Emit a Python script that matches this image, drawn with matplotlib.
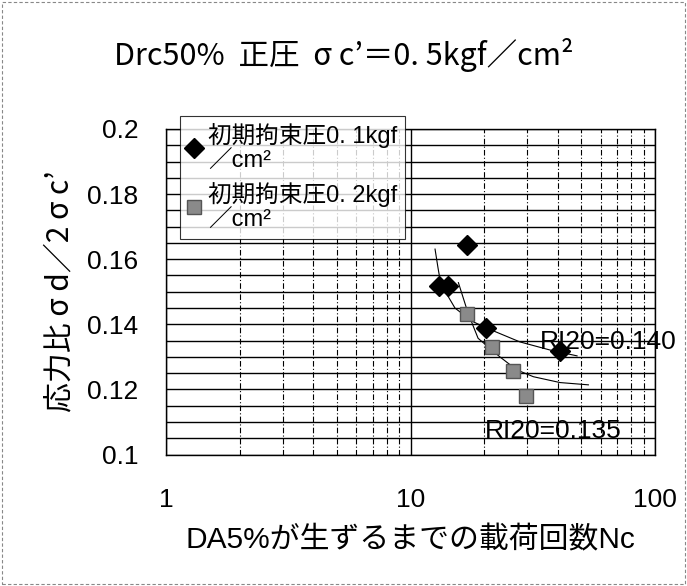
import matplotlib
matplotlib.use('Agg')
import matplotlib.pyplot as plt
from matplotlib.patches import Rectangle
from matplotlib.ticker import FixedLocator, NullFormatter, FixedFormatter

plt.rcParams['font.family'] = ['Liberation Sans', 'Noto Sans CJK JP', 'DejaVu Sans']
cjk = ['Noto Sans CJK JP', 'Liberation Sans', 'DejaVu Sans']

# data
nc_01 = [13.1, 14.2, 17.0, 20.3, 40.9]
sr_01 = [0.1518, 0.1518, 0.1644, 0.1388, 0.1319]
nc_02 = [17.0, 21.5, 26.3, 29.6]
sr_02 = [0.1432, 0.1329, 0.1257, 0.1180]

# trend curves, points
fit1_x = [12.6, 12.96, 13.3, 15.2, 17.8, 20.4, 28.0, 37.2, 48.0]
fit1_y = [0.1631, 0.1573, 0.1524, 0.1450, 0.1410, 0.1389, 0.1346, 0.1321, 0.1303]
fit2_x = [15.7, 17.2, 18.9, 23.2, 27.2, 31.8, 40.9, 53.4]
fit2_y = [0.1528, 0.1434, 0.1357, 0.1300, 0.1260, 0.1239, 0.1221, 0.1214]

labels = ['初期拘束圧0. 1kgf\n／cm²', '初期拘束圧0. 2kgf\n／cm²']
yticks = [0.1, 0.12, 0.14, 0.16, 0.18, 0.2]
ytick_labels = ['0.1', '0.12', '0.14', '0.16', '0.18', '0.2']

fig = plt.figure(figsize=(6.87, 5.86), dpi=100)
ax = fig.add_axes([166/687, 1-454.5/586, (655-166)/687, (454.5-129)/586])

ax.set_xscale('log')
ax.set_xlim(1, 100)
ax.set_ylim(0.1, 0.2)

ax.plot(fit1_x, fit1_y, color='black', lw=0.8)
ax.plot(fit2_x, fit2_y, color='black', lw=0.8)
ax.plot(nc_01, sr_01, 'D', color='black', ms=10, ls='none', label=labels[0], zorder=5)
ax.plot(nc_02, sr_02, 's', color='#8a8a8a', mec='#555555', ms=10, ls='none', label=labels[1], zorder=5)

ax.text(33.8, 0.1346, 'RI20=0.140', fontsize=19, va='center', ha='left', clip_on=False, zorder=6)
ax.text(20.2, 0.1072, 'RI20=0.135', fontsize=19, va='center', ha='left', zorder=6)

# grid
ax.yaxis.set_major_locator(FixedLocator(yticks))
ax.yaxis.set_major_formatter(FixedFormatter(ytick_labels))
ax.yaxis.set_minor_locator(FixedLocator([0.1 + 0.005*i for i in range(21)]))
ax.grid(True, which='minor', axis='y', color='black', lw=1.0)
ax.grid(True, which='major', axis='y', color='black', lw=1.0)
ax.grid(True, which='major', axis='x', color='black', lw=1.0)
ax.grid(True, which='minor', axis='x', color='black', lw=0.8, ls=(0, (5, 2, 1, 2)))
ax.xaxis.set_minor_formatter(NullFormatter())
ax.set_xticks([1, 10, 100])
ax.set_xticklabels(['1', '10', '100'])
ax.tick_params(axis='both', which='both', length=0, labelsize=19)
ax.tick_params(axis='x', pad=24)
ax.tick_params(axis='y', pad=20)
for s in ax.spines.values():
    s.set_color('black')
    s.set_linewidth(1.0)

ax.set_xlabel('DA5%が生ずるまでの載荷回数Nc', fontsize=21.5, labelpad=10)
ax.set_ylabel('応力比 σ d／2 σ c’', fontsize=21.5, labelpad=8, family=cjk)
fig.text(0.5, 1-55/586, 'Drc50%  正圧  σ c’＝0. 5kgf／cm²', fontsize=22, ha='center', va='center', family=cjk)

leg = ax.legend(loc='upper left', bbox_to_anchor=(180/687, 1-116/586), bbox_transform=fig.transFigure,
                borderaxespad=0, fontsize=17, frameon=True, fancybox=False, handlelength=0.6,
                handletextpad=0.3, labelspacing=0.35, borderpad=0.3)
leg.get_frame().set_edgecolor('black')
leg.get_frame().set_linewidth(0.8)
leg.set_zorder(10)

fig.patches.append(Rectangle((0.003, 0.003), 0.994, 0.994, transform=fig.transFigure,
                             fill=False, ec='#888888', lw=0.8, ls=(0, (3, 2))))

fig.savefig('out.png', dpi=100)
